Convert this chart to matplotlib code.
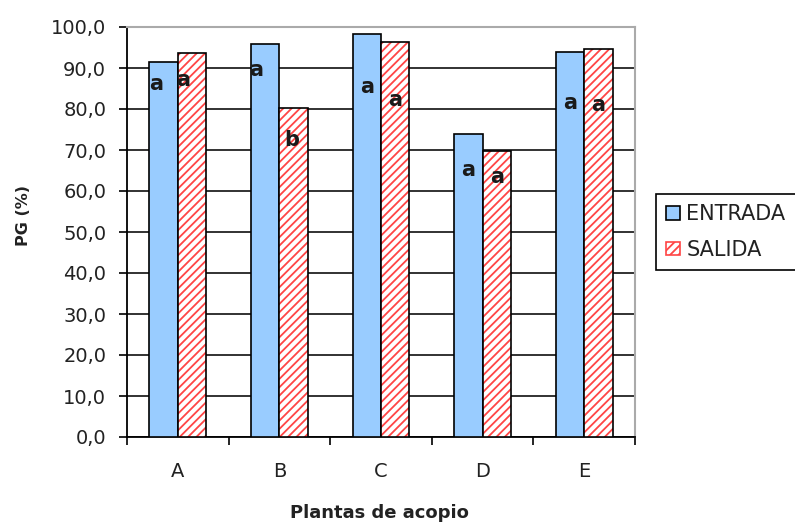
import numpy as np
import matplotlib
matplotlib.use("Agg")
import matplotlib.pyplot as plt
from matplotlib.patches import Patch

plantas = ["A", "B", "C", "D", "E"]
entrada = [91.5, 95.9, 98.3, 73.8, 94.0]
salida = [93.6, 80.2, 96.3, 69.8, 94.6]
letras_entrada = ["a", "a", "a", "a", "a"]
letras_salida = ["a", "b", "a", "a", "a"]
# altura (en unidades del eje) donde aparece cada letra
altura_letra_entrada = [86.0, 89.5, 85.4, 65.1, 81.5]
altura_letra_salida = [87.1, 72.4, 82.2, 63.4, 81.0]
yticks = [0, 10, 20, 30, 40, 50, 60, 70, 80, 90, 100]

plt.rcParams["font.family"] = ["DejaVu Sans"]
plt.rcParams["hatch.linewidth"] = 1.3

fig = plt.figure(figsize=(7.95, 5.22), dpi=100)
ax = fig.add_axes([127 / 795, 1 - 437 / 522, 508 / 795, 410 / 522])

x = np.arange(len(plantas))
w = 0.28
azul = "#99CCFF"
rojo = "#ff4545"

ax.bar(x - w / 2, entrada, w, color=azul, edgecolor="black", linewidth=1.2, zorder=3)
ax.bar(x + w / 2, salida, w, color="white", edgecolor=rojo, hatch="////",
       linewidth=0, zorder=3)
ax.bar(x + w / 2, salida, w, fill=False, edgecolor="black", linewidth=1.2, zorder=4)

dx_e = [-0.07, -0.09, 0.0, 0.0, 0.0]
dx_s = [-0.09, -0.02, 0.0, 0.0, 0.0]
for i in range(len(plantas)):
    ax.text(x[i] - w / 2 + dx_e[i], altura_letra_entrada[i], letras_entrada[i],
            ha="center", va="center", fontsize=15, fontweight="bold",
            color="#1a1a1a", zorder=5)
    ax.text(x[i] + w / 2 + dx_s[i], altura_letra_salida[i], letras_salida[i],
            ha="center", va="center", fontsize=15, fontweight="bold",
            color="#1a1a1a", zorder=5)

ax.set_xlim(-0.5, len(plantas) - 0.5)
ax.set_ylim(0, 100)
ax.set_yticks(yticks)
ax.set_yticklabels([f"{v:.1f}".replace(".", ",") for v in yticks])
ax.yaxis.grid(True, color="#222222", linewidth=1.3, zorder=0)

ax.set_xticks(np.arange(-0.5, len(plantas)))
ax.set_xticklabels([])
ax.set_xticks(x, minor=True)
ax.set_xticklabels(plantas, minor=True)
ax.tick_params(axis="x", which="major", direction="out", length=6, width=1.2)
ax.tick_params(axis="x", which="minor", length=0, pad=18, labelsize=14, labelcolor="#222222")
ax.tick_params(axis="y", direction="out", length=6, width=1.2, pad=9,
               labelsize=14, labelcolor="#222222")

for s in ["left", "bottom"]:
    ax.spines[s].set_color("black")
    ax.spines[s].set_linewidth(1.3)
for s in ["top", "right"]:
    ax.spines[s].set_color("#aaaaaa")
    ax.spines[s].set_linewidth(1.5)

fig.text(379 / 795, 1 - 513 / 522, "Plantas de acopio", ha="center", va="center",
         fontsize=13, fontweight="bold", color="#222222")
fig.text(24 / 795, 1 - 216 / 522, "PG (%)", ha="center", va="center", rotation=90,
         fontsize=11.5, fontweight="bold", color="#222222")

handles = [Patch(facecolor=azul, edgecolor="black", linewidth=1.2, label="ENTRADA"),
           Patch(facecolor="white", edgecolor=rojo, hatch="////", linewidth=1.2,
                 label="SALIDA")]
leg = fig.legend(handles=handles, loc="center left",
                 bbox_to_anchor=(656 / 795, 1 - 232 / 522), fontsize=15,
                 frameon=True, fancybox=False, framealpha=1, edgecolor="black",
                 handlelength=0.65, handleheight=0.65, handletextpad=0.3,
                 borderpad=0.5, labelspacing=0.75, borderaxespad=0)
leg.get_frame().set_linewidth(1.2)
for t in leg.get_texts():
    t.set_color("#222222")

fig.savefig("out.png", dpi=100)
